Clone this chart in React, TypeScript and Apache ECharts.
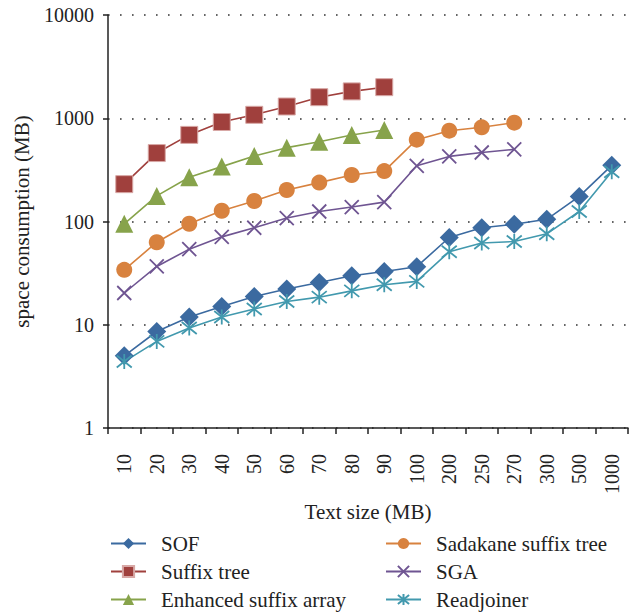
import React, { useEffect, useRef } from "react";
import * as echarts from "echarts";

const categories = ["10", "20", "30", "40", "50", "60", "70", "80", "90", "100", "200", "250", "270", "300", "500", "1000"];
const yTicks = [1, 10, 100, 1000, 10000];

const sof = [5.0, 8.6, 11.9, 15.0, 18.8, 22.2, 25.7, 29.8, 32.8, 36.5, 70, 87, 94, 105, 175, 350];
const suffixTree = [230, 460, 690, 920, 1080, 1300, 1600, 1820, 2000];
const enhanced = [95, 177, 268, 340, 431, 519, 593, 689, 769];
const sadakane = [34, 63, 95, 127, 158, 202, 238, 282, 308, 620, 758, 817, 906];
const sga = [20.3, 36.7, 54, 71, 87, 108, 125, 138, 154, 346, 427, 466, 500];
const readjoiner = [4.4, 6.9, 9.3, 11.9, 14.2, 16.8, 18.5, 21.3, 24.4, 26.3, 51, 62, 64, 76, 125, 303];

const FONT = "'Liberation Serif', 'Times New Roman', serif";
const X_PATH = "path://M0,0L10,10M10,0L0,10";
const STAR_PATH = "path://M5,0L5,10M1,1L9,9M9,1L1,9";

export default function App() {
  const ref = useRef<HTMLDivElement>(null);
  useEffect(() => {
    if (!ref.current) return;
    const chart = echarts.init(ref.current, undefined, { renderer: "svg" });
    const mk = (name: string, data: number[], color: string, symbol: string, size: number, stroke?: boolean, border?: string) => ({
      name,
      type: "line",
      data,
      symbol,
      symbolSize: size,
      showSymbol: true,
      lineStyle: { color, width: 1.6 },
      itemStyle: stroke
        ? { color: color, borderColor: color, borderWidth: 1.8 }
        : border
        ? { color, borderColor: border, borderWidth: 1 }
        : { color },
      z: 2,
    });
    const legendCommon = {
      orient: "vertical",
      itemWidth: 35,
      itemHeight: 14,
      itemGap: 7,
      height: 100,
      padding: 0,
      textStyle: { fontFamily: FONT, fontSize: 21, color: "#222", padding: [0, 0, 0, 10] },
      top: 533,
    };
    chart.setOption({
      animation: false,
      grid: { left: 108, right: 11, top: 15, bottom: 184 },
      legend: [
        { ...legendCommon, left: 110, data: ["SOF", "Suffix tree", "Enhanced suffix array"] },
        { ...legendCommon, left: 385, data: ["Sadakane suffix tree", "SGA", "Readjoiner"] },
      ],
      xAxis: {
        type: "category",
        data: categories,
        boundaryGap: true,
        name: "Text size (MB)",
        nameLocation: "middle",
        nameGap: 72,
        nameTextStyle: { fontFamily: FONT, fontSize: 21, color: "#222" },
        axisLine: { lineStyle: { color: "#222", width: 1.5 } },
        axisTick: { show: true, interval: 0, alignWithLabel: false, length: 6, lineStyle: { color: "#222", width: 1.5 } },
        axisLabel: { rotate: 90, interval: 0, margin: 26, fontFamily: FONT, fontSize: 20, color: "#222" },
        splitLine: { show: false },
      },
      yAxis: {
        type: "log",
        logBase: 10,
        min: yTicks[0],
        max: yTicks[yTicks.length - 1],
        name: "space consumption (MB)",
        nameLocation: "middle",
        nameGap: 76,
        nameTextStyle: { fontFamily: FONT, fontSize: 21, color: "#222" },
        axisLine: { show: true, lineStyle: { color: "#222", width: 1.5 } },
        axisTick: { show: true, length: 5, lineStyle: { color: "#222", width: 1.5 } },
        axisLabel: { margin: 14, fontFamily: FONT, fontSize: 20, color: "#222", formatter: (v: number) => String(Math.round(v)) },
        splitLine: { show: true, lineStyle: { color: "#333", width: 1.6, type: [1.6, 10.4] } },
        minorTick: { show: false },
      },
      series: [
        mk("SOF", sof, "#3b6aa0", "diamond", 19),
        mk("Suffix tree", suffixTree, "#a0403d", "rect", 17, false, "#d8a8a6"),
        mk("Enhanced suffix array", enhanced, "#87a34b", "triangle", 18),
        mk("Sadakane suffix tree", sadakane, "#d8823f", "circle", 16),
        mk("SGA", sga, "#6f5592", X_PATH, 14, true),
        mk("Readjoiner", readjoiner, "#4299ae", STAR_PATH, 15, true),
      ],
    });
    return () => chart.dispose();
  }, []);
  return <div ref={ref} style={{ width: 639, height: 612, position: "absolute", left: 0, top: 0 }} />;
}
